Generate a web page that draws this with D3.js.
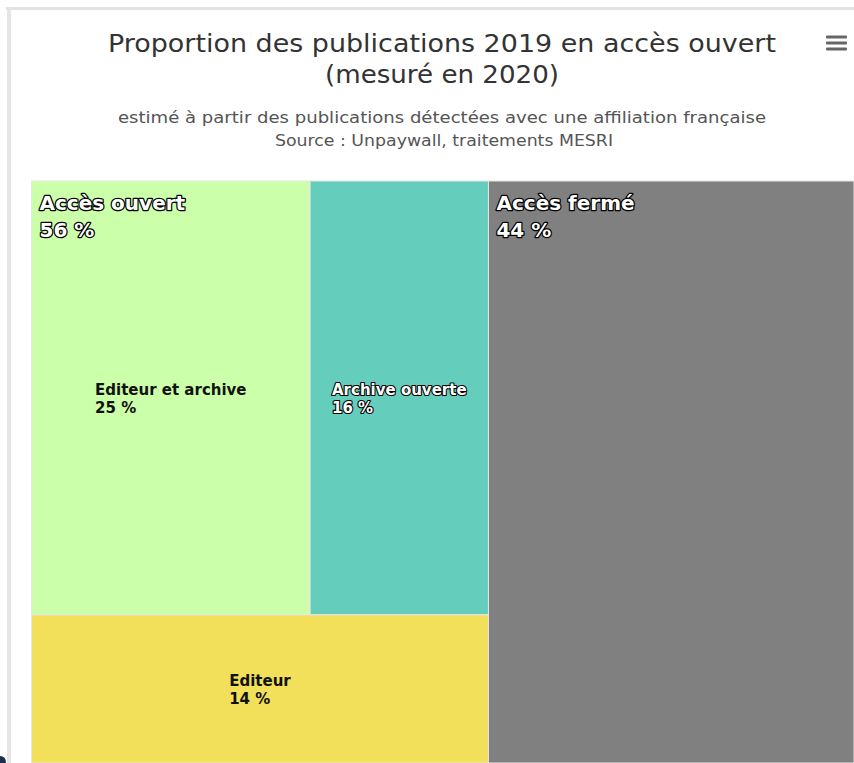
<!DOCTYPE html>
<html><head><meta charset="utf-8">
<script src="https://cdn.jsdelivr.net/npm/d3@7"></script>
<style>body{margin:0;background:#fff;overflow:hidden}svg{display:block}</style>
</head><body>
<svg id="c" width="854" height="763"></svg>
<script>
// ---- data ----
const parentNames = ["Accès ouvert", "Accès fermé"];
const parentShares = [56, 44];
const openCategories = ["Editeur et archive", "Archive ouverte", "Editeur"];
const openValues = [25, 16, 14];
const closedValue = 44;
const colors = {"Editeur et archive":"#ccffaa","Archive ouverte":"#64cdbb","Editeur":"#f2e05a","Accès fermé":"#808080"};
const titleLines = ["Proportion des publications 2019 en accès ouvert", "(mesuré en 2020)"];
const subtitleLines = ["estimé à partir des publications détectées avec une affiliation française", "Source : Unpaywall, traitements MESRI"];

const svg = d3.select("#c");

// frame
svg.append("rect").attr("x",6).attr("y",7).attr("width",848).attr("height",3).attr("fill","#e2e2e2");
svg.append("rect").attr("x",7).attr("y",8).attr("width",4).attr("height",755).attr("fill","#e4e6e6");
svg.append("path").attr("d","M0,756 Q6,756 6,763 L0,763 Z").attr("fill","#1c2d4e");

// title
const tfont = "'DejaVu Sans', 'Open Sans', sans-serif";
const title = svg.append("g").attr("font-family",tfont).attr("fill","#333").attr("text-anchor","middle");
title.append("text").attr("x",442).attr("y",52).attr("font-size",25).attr("textLength",668).attr("lengthAdjust","spacingAndGlyphs").text(titleLines[0]);
title.append("text").attr("x",442).attr("y",83).attr("font-size",25).attr("textLength",234).attr("lengthAdjust","spacingAndGlyphs").text(titleLines[1]);
const sub = svg.append("g").attr("font-family",tfont).attr("fill","#555").attr("text-anchor","middle").attr("font-size",15);
sub.append("text").attr("x",442).attr("y",123).attr("textLength",648).attr("lengthAdjust","spacingAndGlyphs").text(subtitleLines[0]);
sub.append("text").attr("x",444).attr("y",146).attr("textLength",338).attr("lengthAdjust","spacingAndGlyphs").text(subtitleLines[1]);

// menu icon
[37,43,49].forEach(y=>svg.append("rect").attr("x",826).attr("y",y-1.5).attr("width",21).attr("height",3).attr("rx",1).attr("fill","#666"));

// treemap
const data = {name:"root", children:[
  {name: parentNames[0], share: parentShares[0], children:[
    {name:"row", children: openCategories.slice(0,2).map((n,i)=>({name:n, value:openValues[i]}))},
    {name: openCategories[2], value: openValues[2]}
  ]},
  {name: parentNames[1], share: parentShares[1], value: closedValue}
]};
const X0 = 31.5, Y0 = 181;
const root = d3.hierarchy(data).sum(d=>d.value||0);
d3.treemap().tile(d3.treemapSliceDice).size([854-X0, 763-Y0]).round(false)(root);

const plot = svg.append("g").attr("transform",`translate(${X0},${Y0})`);
const leaves = root.leaves();
plot.append("g").selectAll("rect").data(leaves).join("rect")
  .attr("x",d=>d.x0).attr("y",d=>d.y0).attr("width",d=>d.x1-d.x0).attr("height",d=>d.y1-d.y0)
  .attr("fill",d=>colors[d.data.name]).attr("stroke","#e6e6e6").attr("stroke-width",1);

const lfont = "'DejaVu Sans', Verdana, sans-serif";
// child labels (open access breakdown)
const childLeaves = leaves.filter(d=>openCategories.includes(d.data.name));
childLeaves.forEach(d=>{
  const dark = d.data.name === "Archive ouverte";
  const g = plot.append("g").attr("font-family",lfont).attr("font-weight","bold").attr("font-size",15);
  const pct = openValues[openCategories.indexOf(d.data.name)] + " %";
  const t1 = g.append("text").text(d.data.name);
  const t2 = g.append("text").text(pct);
  const w = Math.max(t1.node().getComputedTextLength(), t2.node().getComputedTextLength());
  const cx = (d.x0+d.x1)/2, cy = (d.y0+d.y1)/2;
  const x = cx - w/2;
  t1.attr("x",x).attr("y",cy-3); t2.attr("x",x).attr("y",cy+15);
  g.selectAll("text").attr("fill", dark ? "#fff" : "#111")
    .attr("stroke", dark ? "#000" : "none").attr("stroke-width", dark ? 2.2 : 0)
    .attr("stroke-linejoin","round").attr("paint-order","stroke");
});

// parent labels
root.children.forEach((p,i)=>{
  const g = plot.append("g").attr("font-family",lfont).attr("font-weight","bold").attr("font-size",20)
    .attr("fill","#fff").attr("stroke","#000").attr("stroke-width",2.5).attr("stroke-linejoin","round").attr("paint-order","stroke");
  g.append("text").attr("x",p.x0+8).attr("y",p.y0+29).text(parentNames[i]);
  g.append("text").attr("x",p.x0+8).attr("y",p.y0+56).text(parentShares[i] + " %");
});
</script>
</body></html>
